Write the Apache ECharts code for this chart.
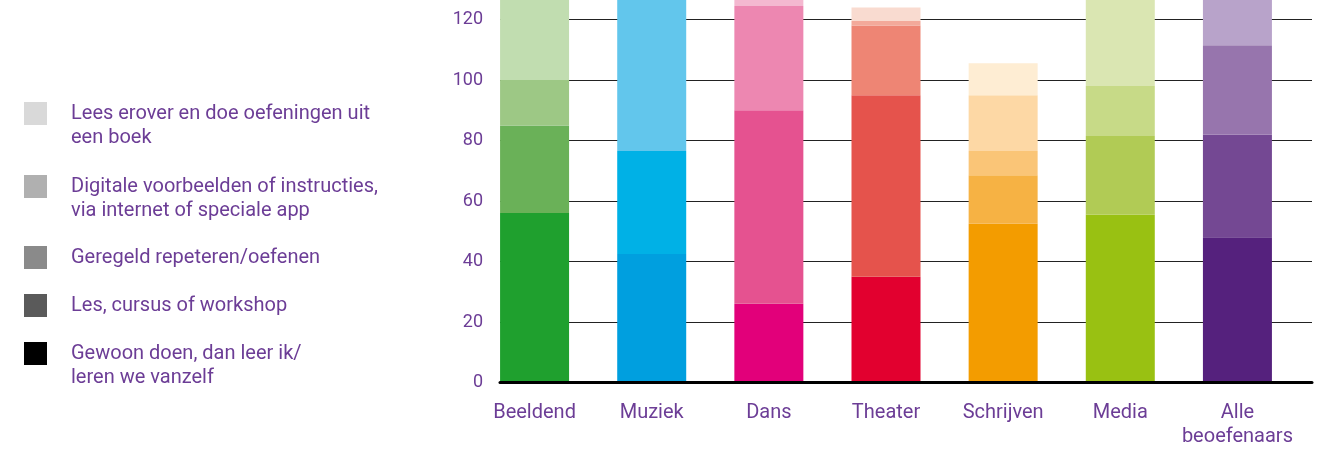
<!DOCTYPE html>
<html>
<head>
<meta charset="utf-8">
<script src="https://cdn.jsdelivr.net/npm/echarts@6/dist/echarts.min.js"></script>
<style>
  html, body { margin: 0; padding: 0; background: #fff; overflow: hidden; }
  /* grafiek loopt boven de rand door: bovenkant valt buiten beeld */
  #grafiek { width: 1325px; height: 509px; margin-top: -60px; }
</style>
</head>
<body>
<div id="grafiek"></div>
<script>
// categorieen en waarden (gestapeld, van onder naar boven)
const categorieen = ['Beeldend', 'Muziek', 'Dans', 'Theater', 'Schrijven', 'Media', 'Alle\nbeoefenaars'];
const reeksNamen = [
    'Gewoon doen, dan leer ik/\nleren we vanzelf',
    'Les, cursus of workshop',
    'Geregeld repeteren/oefenen',
    'Digitale voorbeelden of instructies,\nvia internet of speciale app',
    'Lees erover en doe oefeningen uit\neen boek'
];
const gewoonDoen = [56, 42.5, 26, 35, 52.5, 55.5, 48];
const lesCursus = [29, 34, 64, 60, 16, 26, 34];
const geregeld = [15, 55, 34.5, 23, 8, 16.5, 29.5];
const digitaal = [30, 10, 5, 1.5, 18.5, 30, 20];
const leesBoek = [8, 5, 5, 4.5, 10.5, 8, 8];
const yTicks = [0, 20, 40, 60, 80, 100, 120, 140];

const waarden = [gewoonDoen, lesCursus, geregeld, digitaal, leesBoek];

// kleuren per categorie, donker -> licht
const kleuren = [
    ['#1fa02e', '#6ab158', '#9dc885', '#c1ddb0', '#e0eed8'],
    ['#009fdf', '#00b1e6', '#62c6ec', '#a9dcf4', '#d4eefa'],
    ['#e2007a', '#e55290', '#ed87b1', '#f4b8d0', '#fadbe7'],
    ['#e2002f', '#e5534c', '#ee8574', '#f3a99a', '#f9dbd0'],
    ['#f39c00', '#f6b244', '#fac577', '#fdd8a5', '#feedd3'],
    ['#99c112', '#b1cb55', '#c7da87', '#dae6b2', '#edf3db'],
    ['#55217d', '#744893', '#9775ad', '#b8a3ca', '#dcd0e5']
];
const legendaKleuren = ['#000000', '#5a5a5a', '#8a8a8a', '#b0b0b0', '#d9d9d9'];
const paars = '#6c3d96';
const font = 'Roboto';

const chart = echarts.init(document.getElementById('grafiek'));

const series = reeksNamen.map((naam, i) => ({
    name: naam,
    type: 'bar',
    stack: 'totaal',
    xAxisIndex: 0,
    yAxisIndex: 0,
    barWidth: 69,
    itemStyle: { color: legendaKleuren[i] },
    data: waarden[i].map((v, j) => ({ value: v, itemStyle: { color: kleuren[j][i] } }))
}));

// legenda: één component per item, van boven naar beneden
const legendaVolgorde = [4, 3, 2, 1, 0];
const legendaTop = [137.5, 210.5, 305.5, 353.5, 377.5];
const legends = legendaVolgorde.map((idx, k) => {
    const tweeRegels = reeksNamen[idx].includes('\n');
    return {
        data: [reeksNamen[idx]],
        left: 24,
        top: legendaTop[k],
        padding: 0,
        orient: 'vertical',
        icon: 'rect',
        itemWidth: 23,
        itemHeight: 23,
        selectedMode: false,
        // lege regel erboven zodat de eerste regel naast het blokje staat
        formatter: naam => tweeRegels ? ' \n' + naam : naam,
        textStyle: {
            color: paars,
            fontFamily: font,
            fontSize: 20,
            lineHeight: 24,
            padding: [0, 0, 0, 19]
        }
    };
});

chart.setOption({
    animation: false,
    legend: legends,
    grid: [
        { left: 476, right: 29, top: 19, bottom: 66.5 },
        { left: 500, right: 13, top: 19, bottom: 66.5 }
    ],
    xAxis: [
        {
            type: 'category',
            gridIndex: 0,
            data: categorieen,
            axisLine: { show: false },
            axisTick: { show: false },
            axisLabel: {
                interval: 0,
                color: paars,
                fontFamily: font,
                fontSize: 20,
                lineHeight: 24,
                margin: 18,
                verticalAlign: 'top'
            }
        },
        {
            type: 'value',
            gridIndex: 1,
            min: 0,
            max: 1,
            z: 5,
            axisLine: { show: true, lineStyle: { color: '#000', width: 3 } },
            axisTick: { show: false },
            axisLabel: { show: false },
            splitLine: { show: false }
        }
    ],
    yAxis: [
        {
            type: 'value',
            gridIndex: 0,
            min: yTicks[0],
            max: yTicks[yTicks.length - 1],
            interval: 20,
            show: false
        },
        {
            type: 'value',
            gridIndex: 1,
            min: yTicks[0],
            max: yTicks[yTicks.length - 1],
            interval: 20,
            axisLine: { show: false },
            axisTick: { show: false },
            axisLabel: {
                color: paars,
                fontFamily: font,
                fontSize: 18,
                margin: 17,
                padding: [6, 0, 0, 0]
            },
            splitLine: { lineStyle: { color: '#222', width: 1.2 } }
        }
    ],
    series: series
});

window.addEventListener('resize', () => chart.resize());
</script>
</body>
</html>
